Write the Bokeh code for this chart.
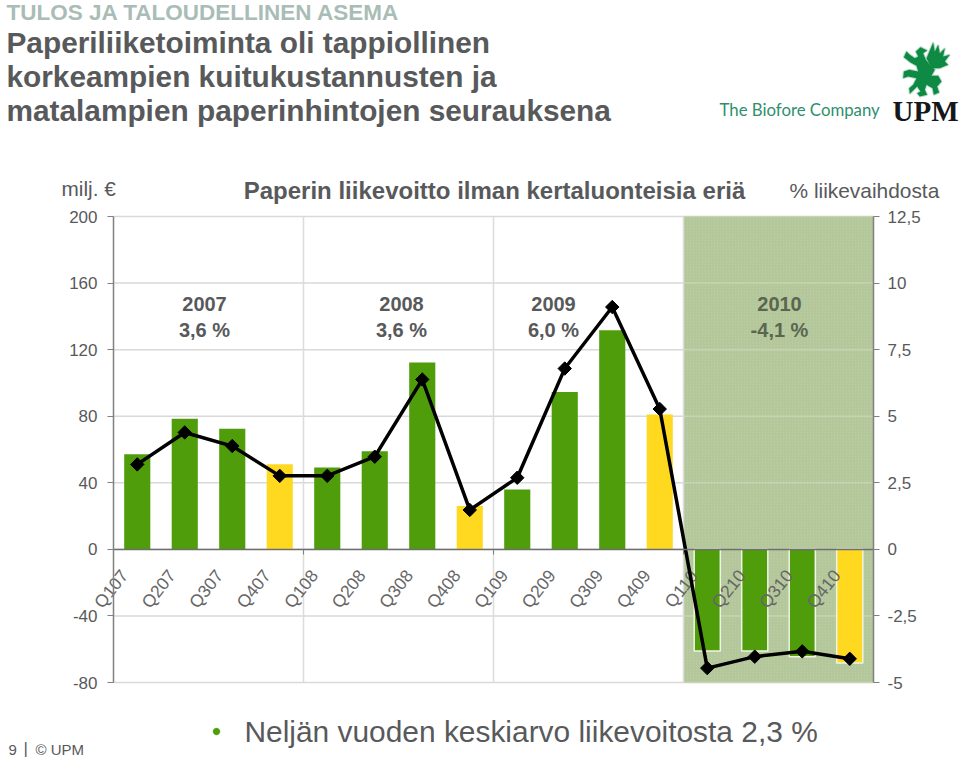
from bokeh.plotting import figure
from bokeh.models import Range1d, LinearAxis, FixedTicker, Label, PolyAnnotation
from bokeh.core.properties import value
from bokeh.embed import file_html
from bokeh.resources import INLINE
import math

quarters = ["Q107","Q207","Q307","Q407","Q108","Q208","Q308","Q408","Q109","Q209","Q309","Q409","Q110","Q210","Q310","Q410"]
profit = [57.2,78.5,72.4,51.2,49.2,59,112.3,26,36,94.5,131.7,81,-61,-61,-64.5,-68.3]
margin = [3.19,4.39,3.88,2.76,2.76,3.48,6.38,1.48,2.69,6.79,9.1,5.27,-4.46,-4.03,-3.83,-4.11]
left_ticks = [-80,-40,0,40,80,120,160,200]
left_labels = ["-80","-40","0","40","80","120","160","200"]
right_ticks = [-5,-2.5,0,2.5,5,7.5,10,12.5]
right_labels = ["-5","-2,5","0","2,5","5","7,5","10","12,5"]
year_boundaries = [4,8,12]
year_titles = ["2007","2008","2009","2010"]
year_margins = ["3,6 %","3,6 %","6,0 %","-4,1 %"]

GREEN="#4f9d0b"; YELLOW="#ffd920"; TXT="#58595b"; FONT="Liberation Sans"

W,H=960,759
FL,FR,FT,FB=113,873,216,682   # plot area in page pixels
def X(px): return (px-FL)/((FR-FL)/16)
def Y(py): return 200-(py-FT)/((FB-FT)/280)

p=figure(width=W,height=H,output_backend="svg",toolbar_location=None,
         x_range=Range1d(X(0),X(W)),y_range=Range1d(Y(H),Y(0)),
         x_axis_location=None,y_axis_location=None,
         min_border_left=0,min_border_right=0,min_border_top=0,min_border_bottom=0)
p.outline_line_color=None
p.background_fill_color="white"
p.border_fill_color="white"
p.xgrid.visible=False; p.ygrid.visible=False
p.extra_y_ranges={"pct":Range1d(Y(H)/16,Y(0)/16)}

# shaded 2010 panel
p.quad(left=[12],right=[16],bottom=[-80],top=[200],fill_color="#bbcda4",line_color=None,level="image",
       hatch_pattern="right_diagonal_line",hatch_color="#afc495",hatch_scale=3,hatch_weight=1)

# grid
p.segment(x0=[0]*8,x1=[12]*8,y0=left_ticks,y1=left_ticks,line_color="#d9d9d9",line_width=1.5,level="underlay")
p.segment(x0=[12]*8,x1=[16]*8,y0=left_ticks,y1=left_ticks,line_color="#c6d4b2",line_width=1.5,level="underlay")
p.segment(x0=year_boundaries,x1=year_boundaries,y0=[-80]*3,y1=[200]*3,line_color="#dcdcdc",line_width=1.5,level="underlay")

# axes
ax=LinearAxis(fixed_location=0,bounds=(-80,200),ticker=FixedTicker(ticks=left_ticks),
              major_label_overrides=dict(zip(left_ticks,left_labels)))
rax=LinearAxis(fixed_location=16,bounds=(-5,12.5),y_range_name="pct",ticker=FixedTicker(ticks=right_ticks),
               major_label_overrides=dict(zip(right_ticks,right_labels)))
p.add_layout(ax,"left")
p.add_layout(rax,"right")
for a,st in ((ax,10),(rax,8)):
    a.axis_line_color="#808080"; a.axis_line_width=1.5
    a.major_tick_line_color="#808080"; a.major_tick_line_width=1
    a.major_tick_out=6; a.major_tick_in=0; a.minor_tick_line_color=None
    a.major_label_text_font=FONT; a.major_label_text_font_size="17px"
    a.major_label_text_color=TXT; a.major_label_standoff=st
xax=LinearAxis(fixed_location=0,bounds=(0,16),ticker=FixedTicker(ticks=year_boundaries),
               major_label_overrides={b:"" for b in year_boundaries})
xax.axis_line_color="#6e6e6e"; xax.axis_line_width=1.5
xax.major_tick_line_color="#808080"; xax.major_tick_out=5; xax.major_tick_in=0
xax.minor_tick_line_color=None
p.add_layout(xax,"below")

# bars
xs=[i+0.5 for i in range(len(quarters))]
colors=[YELLOW if q.startswith("Q4") else GREEN for q in quarters]
edges=["#eef4e2" if v<0 else None for v in profit]
p.vbar(x=xs,top=profit,bottom=0,width=0.55,fill_color=colors,line_color=edges,line_width=1.5)

# quarter labels
p.text(x=[v-0.55 for v in xs],y=[-23.8]*16,text=quarters,angle=0.9,text_align="center",text_baseline="middle",
       text_font=value(FONT),text_font_size="17.5px",text_color="#666666")

# margin line
p.line(xs,margin,y_range_name="pct",line_color="black",line_width=3.5,line_join="miter")
p.scatter(xs,margin,y_range_name="pct",marker="square",angle=math.pi/4,size=9.5,fill_color="black",line_color="black")

def T(px,py,text,size,color=TXT,bold=False,align="left",font=FONT):
    p.add_layout(Label(x=X(px),y=Y(py),text=text,text_font=font,text_font_size=f"{size}px",text_color=color,
                       text_font_style="bold" if bold else "normal",text_align=align,text_baseline="middle"))

# headings
T(6,12,"TULOS JA TALOUDELLINEN ASEMA",22.5,"#a9bdb6",True)
T(6,42,"Paperiliiketoiminta oli tappiollinen",29.8,TXT,True)
T(6,76,"korkeampien kuitukustannusten ja",29.8,TXT,True)
T(6,110,"matalampien paperinhintojen seurauksena",29.8,TXT,True)
T(61,188,"milj. €",20.8)
T(494,190,"Paperin liikevoitto ilman kertaluonteisia eriä",24,TXT,True,"center")
T(789,190,"% liikevaihdosta",20.9)

# year annotations
for cx,t,m in zip([204,401,553,779],year_titles,year_margins):
    c=TXT if t!="2010" else "#5a6650"
    T(cx,303,t,20,c,True,"center")
    T(cx,329,m,20,c,True,"center")

# bullet and footer
T(244,731,"Neljän vuoden keskiarvo liikevoitosta 2,3 %",29.9)
p.add_layout(PolyAnnotation(xs=[X(216+3.5*math.cos(a*math.pi/8)) for a in range(16)],
                            ys=[Y(731+3.5*math.sin(a*math.pi/8)) for a in range(16)],
                            fill_color=GREEN,fill_alpha=1,line_color=GREEN))
T(8,749,"9",15)
T(23,748,"|",17)
T(35,749,"© UPM",15)

# logo
T(719,109,"The Biofore Company",16.8,"#2f8f6d",False,"left","Lato")
T(892,110,"UPM",29,"#15171a",True,"left","Liberation Serif")
wing=[(90,65),(110,18),(115,45),(125,25),(130,50),(145,35),(140,60),(160,55),(145,75),(155,85),(130,95),(105,95)]
body=[(58,45),(72,32),(92,42),(80,50),(88,70),(100,85),(115,100),(105,118),(125,118),(135,135),(122,150),(128,168),(112,175),(108,155),(90,145),(85,160),(92,175),(70,180),(62,170),(72,165),(62,150),(40,172),(38,155),(50,145),(60,125),(35,120),(20,125),(22,105),(38,100),(65,105),(60,88),(42,78),(22,62),(30,45),(40,55),(55,65),(65,60)]
for poly in (wing,body):
    p.add_layout(PolyAnnotation(xs=[X(896+a/3) for a,b in poly],ys=[Y(36+b/3) for a,b in poly],
                                fill_color="#0f8a45",fill_alpha=1,line_color="#0f8a45",line_width=2))

open("out.html","w").write(file_html(p,INLINE))
